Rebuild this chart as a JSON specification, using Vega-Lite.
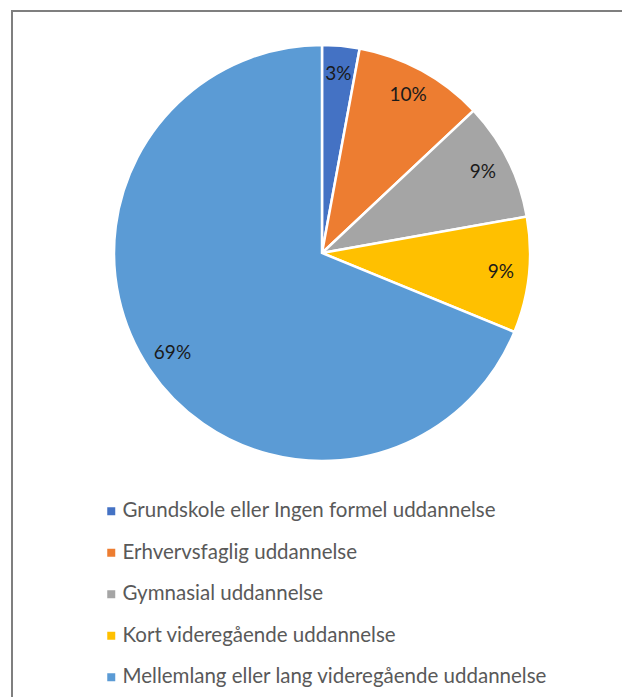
{
  "$schema": "https://vega.github.io/schema/vega-lite/v6.json",
  "autosize": "none",
  "padding": {"left": 12, "top": 11, "right": 0, "bottom": 0},
  "width": 620,
  "height": 720,
  "background": "white",
  "view": {"stroke": "#7f7f7f", "strokeWidth": 2, "fill": "white"},
  "config": {
    "font": "Lato"
  },
  "data": {
    "values": [
      {"i": 1, "kategori": "Grundskole eller Ingen formel uddannelse", "andel": 2.9, "label": "3%"},
      {"i": 2, "kategori": "Erhvervsfaglig uddannelse", "andel": 10.1, "label": "10%"},
      {"i": 3, "kategori": "Gymnasial uddannelse", "andel": 9.2, "label": "9%"},
      {"i": 4, "kategori": "Kort videregående uddannelse", "andel": 9.0, "label": "9%"},
      {"i": 5, "kategori": "Mellemlang eller lang videregående uddannelse", "andel": 68.8, "label": "69%"}
    ]
  },
  "encoding": {
    "theta": {"field": "andel", "type": "quantitative", "stack": true},
    "order": {"field": "i", "type": "quantitative"},
    "color": {
      "field": "kategori",
      "type": "nominal",
      "sort": null,
      "scale": {
        "domain": [
          "Grundskole eller Ingen formel uddannelse",
          "Erhvervsfaglig uddannelse",
          "Gymnasial uddannelse",
          "Kort videregående uddannelse",
          "Mellemlang eller lang videregående uddannelse"
        ],
        "range": ["#4472C4", "#ED7D31", "#A5A5A5", "#FFC000", "#5B9BD5"]
      },
      "legend": {
        "orient": "none",
        "legendX": 89,
        "legendY": 490,
        "title": null,
        "symbolType": "square",
        "symbolSize": 64,
        "symbolStrokeWidth": 0,
        "labelFontSize": 20.5,
        "labelColor": "#595959",
        "labelFont": "Lato",
        "labelLimit": 0,
        "rowPadding": 20.5,
        "labelOffset": 1
      }
    }
  },
  "layer": [
    {
      "mark": {"type": "arc", "outerRadius": 208, "stroke": "white", "strokeWidth": 2.5, "y": {"expr": "height/2 - 118"}}
    },
    {
      "mark": {"type": "text", "radius": 180, "fontSize": 19, "color": "#1a1a1a", "y": {"expr": "height/2 - 118"}},
      "encoding": {
        "text": {"field": "label", "type": "nominal"},
        "color": {"value": "#1a1a1a"}
      }
    }
  ]
}
